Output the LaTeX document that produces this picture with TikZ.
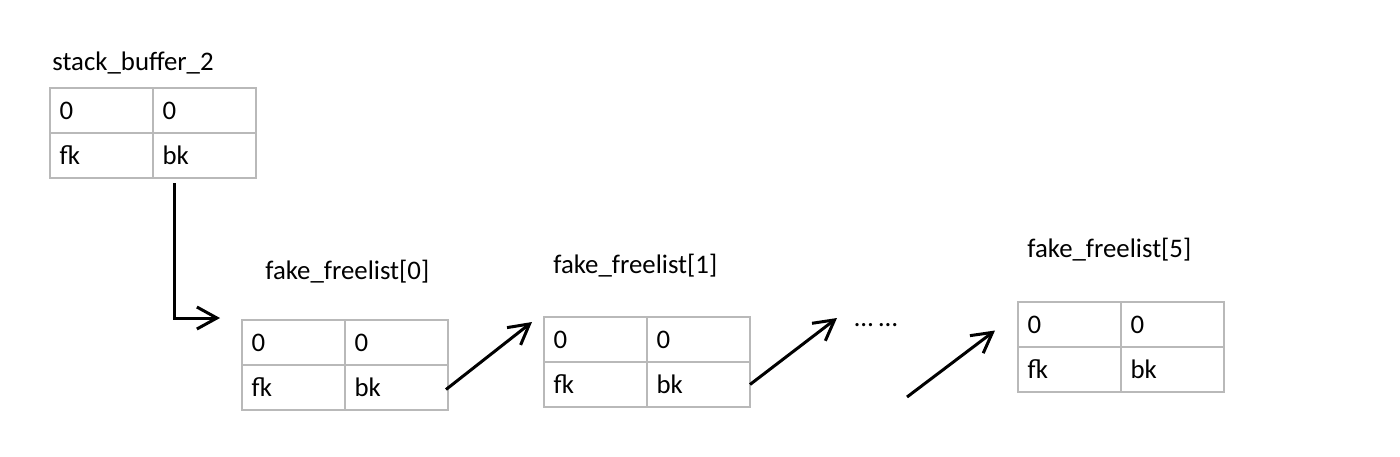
\documentclass[tikz,border=0pt]{standalone}
\usepackage{fontspec}
\setmainfont{Carlito}
\usetikzlibrary{positioning,arrows.meta}
\definecolor{cellgray}{RGB}{185,185,185}

\begin{document}
\begin{tikzpicture}[x=0.5pt, y=-0.5pt, node distance=0pt,
    cell/.style={rectangle, draw=cellgray, line width=0.8pt, text width=42pt, inner xsep=4.75pt, minimum height=22.5pt, align=left, outer sep=0pt, font=\fontsize{13.4}{16}\selectfont},
    title/.style={anchor=base west, inner sep=0pt, font=\fontsize{13.4}{16}\selectfont},
    ptr/.style={-{Straight Barb[length=10pt,width=11pt]}, line width=1.5pt}]
        \path[use as bounding box, fill=white] (0,0) rectangle (1400,456);

        % stack buffer
        \node (sb-title) [title] at (52,70) {stack\_buffer\_2};
        \node (sb-a) [cell, anchor=north west] at (50,88) {0};
        \node (sb-b) [cell, right=of sb-a] {0};
        \node (sb-fk) [cell, below=of sb-a] {fk};
        \node (sb-bk) [cell, below=of sb-b] {bk};

        % fake_freelist[0]
        \node (f0-title) [title] at (265,279) {fake\_freelist[0]};
        \node (f0-a) [cell, anchor=north west] at (242,320) {0};
        \node (f0-b) [cell, right=of f0-a] {0};
        \node (f0-fk) [cell, below=of f0-a] {fk};
        \node (f0-bk) [cell, below=of f0-b] {bk};

        % fake_freelist[1]
        \node (f1-title) [title] at (553,273) {fake\_freelist[1]};
        \node (f1-a) [cell, anchor=north west] at (544,317) {0};
        \node (f1-b) [cell, right=of f1-a] {0};
        \node (f1-fk) [cell, below=of f1-a] {fk};
        \node (f1-bk) [cell, below=of f1-b] {bk};

        % skipped entries
        \node (gap) [font=\fontsize{13.4}{16}\selectfont] at (876,325) {…\hspace{3pt}…};
        \coordinate (gap-in) at (837,318);
        \coordinate (gap-out) at (907,397);

        % fake_freelist[5]
        \node (f5-title) [title] at (1027,257) {fake\_freelist[5]};
        \node (f5-a) [cell, anchor=north west] at (1018,302) {0};
        \node (f5-b) [cell, right=of f5-a] {0};
        \node (f5-fk) [cell, below=of f5-a] {fk};
        \node (f5-bk) [cell, below=of f5-b] {bk};

        % Pointers
        \draw[ptr] ([xshift=10.5pt, yshift=-2.5pt]sb-fk.south east) |- ([xshift=-11pt, yshift=1pt]f0-a.north west);
        \draw[ptr] ([xshift=-1pt, yshift=-1pt]f0-bk.east) -- ([xshift=-6pt, yshift=-2.5pt]f1-a.north west);
        \draw[ptr] (f1-bk.east) -- (gap-in);
        \draw[ptr] (gap-out) -- ([xshift=-11.5pt, yshift=-3pt]f5-a.west);
    \end{tikzpicture}
\end{document}
